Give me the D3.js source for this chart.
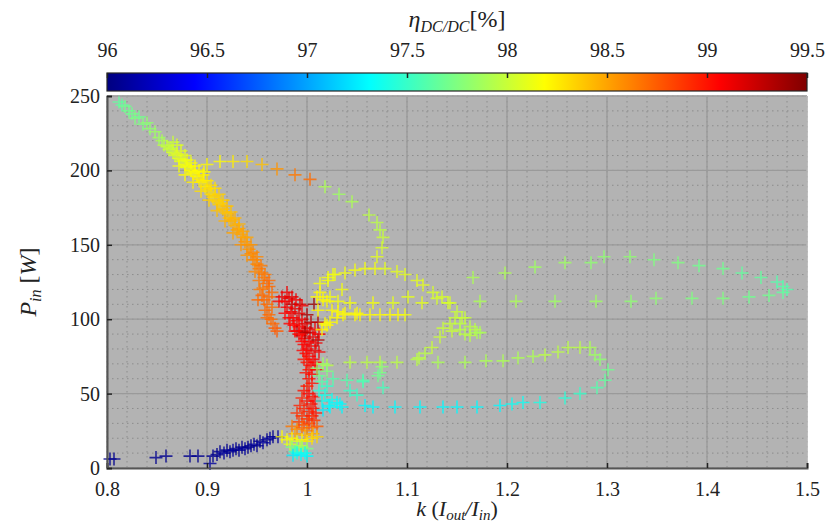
<!DOCTYPE html>
<html>
<head>
<meta charset="utf-8">
<script src="https://cdn.jsdelivr.net/npm/d3@7"></script>
<style>
  body { margin: 0; background: #fff; }
  text { font-family: 'Liberation Serif', 'DejaVu Serif', serif; fill: #222; }
</style>
</head>
<body>
<svg id="chart" width="828" height="528"></svg>
<script>
// Axis ticks
const xTicks = [0.8, 0.9, 1.0, 1.1, 1.2, 1.3, 1.4, 1.5];
const xTickLabels = ["0.8", "0.9", "1", "1.1", "1.2", "1.3", "1.4", "1.5"];
const yTicks = [0, 50, 100, 150, 200, 250];
const etaTicks = [96, 96.5, 97, 97.5, 98, 98.5, 99, 99.5];
const etaTickLabels = ["96", "96.5", "97", "97.5", "98", "98.5", "99", "99.5"];

// Operating points: [k, Pin (W), efficiency (%)]
const lowPowerBranch = [
  [0.803,6,96.05],[0.807,6,96.05],[0.849,7,96.05],[0.859,8,96.05],[0.883,8,96.05],[0.891,8,96.05],
  [0.903,3,96.1],[0.906,8,96.05],[0.910,9,96.05],[0.913,11,96.05],[0.917,10,96.1],[0.920,12,96.05],
  [0.923,11,96.05],[0.926,12,96.1],[0.929,13,96.05],[0.932,12,96.05],[0.935,14,96.05],[0.938,13,96.1],
  [0.941,14,96.05],[0.944,15,96.05],[0.947,16,96.1],[0.950,15,96.05],[0.953,18,96.05],[0.956,17,96.1],
  [0.960,19,96.05],[0.963,20,96.1],[0.966,21,96.05],[0.971,21,96.1]
];

const descendingBand = [
  [0.812,246,97.65],[0.815,244,97.65],[0.818,243,97.7],[0.822,240,97.7],[0.825,238,97.7],[0.828,235,97.75],
  [0.832,236,97.7],[0.836,231,97.75],[0.840,232,97.8],[0.843,228,97.8],[0.848,226,97.85],[0.852,222,97.85],
  [0.855,220,97.9],[0.857,217,97.95],[0.860,216,98.0],[0.862,214,98.0],[0.864,215,98.0],[0.866,212,98.05],
  [0.868,210,98.05],[0.870,211,98.1],[0.872,208,98.1],[0.874,206,98.1],[0.876,207,98.1],[0.878,204,98.15],
  [0.880,202,98.15],[0.882,203,98.15],[0.884,200,98.2],[0.886,198,98.2],[0.888,199,98.2],[0.890,196,98.2],
  [0.892,194,98.25],[0.894,192,98.25],[0.896,193,98.25],[0.898,189,98.25],[0.900,187,98.3],[0.902,188,98.3],
  [0.904,184,98.3],[0.906,182,98.3],[0.908,183,98.35],[0.910,179,98.35],[0.912,177,98.35],[0.914,178,98.35],
  [0.916,174,98.4],[0.918,172,98.4],[0.920,171,98.4],[0.922,168,98.4],[0.924,166,98.45],[0.926,167,98.45],
  [0.928,163,98.45],[0.930,160,98.5],[0.932,161,98.5],[0.934,157,98.5],[0.936,155,98.5],[0.938,152,98.55],
  [0.940,150,98.55],[0.942,147,98.55],[0.944,144,98.6],[0.946,145,98.6],[0.948,140,98.6],[0.950,137,98.6],
  [0.952,134,98.65],[0.955,131,98.65],[0.957,128,98.65],[0.960,124,98.7],[0.962,122,98.7],
  [0.866,219,98.0],[0.870,217,98.05],[0.874,213,98.1],[0.878,210,98.1],[0.872,203,98.15],[0.880,207,98.15],
  [0.884,205,98.15],[0.878,197,98.2],[0.888,203,98.2],[0.892,200,98.2],[0.886,192,98.25],[0.896,197,98.25],
  [0.900,193,98.25],[0.894,186,98.3],[0.904,190,98.3],[0.908,188,98.3],[0.902,180,98.35],[0.912,184,98.35],
  [0.916,180,98.35],[0.910,173,98.4],[0.920,176,98.4],[0.924,172,98.4],[0.918,166,98.45],[0.928,168,98.45],
  [0.932,164,98.45],[0.926,158,98.5],[0.936,159,98.5],[0.940,155,98.5],[0.934,150,98.55],[0.944,150,98.55],
  [0.946,140,98.6],[0.940,143,98.55],[0.950,142,98.6],[0.954,136,98.65],[0.948,132,98.6],[0.958,130,98.65],
  [0.952,126,98.65],[0.962,126,98.7],[0.956,121,98.65],[0.965,118,98.7],
  [0.953,120,98.65],[0.955,116,98.7],[0.951,113,98.7],[0.957,113,98.7],[0.960,110,98.7],[0.958,106,98.7],
  [0.962,103,98.7],[0.964,100,98.7],[0.966,97,98.7],[0.968,94,98.75],[0.962,115,98.7],[0.965,108,98.7],
  [0.970,92,98.75],[0.960,101,98.7]
];

const peakBand = [
  [0.975,115,99.15],[0.978,112,99.1],[0.982,114,99.15],[0.985,110,99.3],[0.980,108,99.1],[0.984,105,99.1],
  [0.988,107,99.15],[0.992,104,99.15],[0.986,101,99.1],[0.990,99,99.1],[0.995,100,99.1],[0.998,97,99.15],
  [0.992,95,99.05],[0.996,92,99.1],[1.000,94,99.15],[1.003,91,99.1],[0.994,89,99.05],[0.998,87,99.1],
  [1.002,85,99.1],[1.006,88,99.15],[0.997,83,99.05],[1.000,80,99.1],[1.004,82,99.1],[1.008,79,99.15],
  [0.999,77,99.05],[1.002,75,99.05],[1.006,73,99.1],[1.000,71,99.0],[1.004,69,99.05],[1.002,66,99.0],
  [1.005,63,99.05],[1.007,110,99.4],[1.004,98,99.3],[0.990,92,99.3],[1.011,86,99.35],[1.000,103,99.35],
  [0.972,112,99.05],[0.978,104,99.05],[0.983,97,99.05],[0.988,92,99.05],[1.011,98,99.3],[0.998,91,99.35],
  [0.980,118,99.1],[0.989,113,99.1],[0.995,109,99.1],[0.982,101,99.05],[0.987,96,99.05],[0.992,90,99.05],
  [1.008,93,99.1],[1.012,90,99.1],[1.009,84,99.1],[0.995,85,99.05],[1.012,78,99.1],[0.996,79,99.05],
  [1.008,71,99.05],[0.997,73,99.0],[1.010,66,99.05],[0.999,64,99.0],[0.993,110,99.2],[0.985,115,99.15],
  [1.002,60,99.0],[1.005,57,99.0],[1.000,55,98.95]
];

const lowKCluster = [
  [0.997,52,99.0],[1.002,50,99.05],[1.006,48,99.0],[0.995,47,98.95],[1.000,45,99.0],[1.004,43,99.0],
  [1.008,45,99.05],[0.993,42,98.95],[0.997,40,98.95],[1.002,38,98.95],[1.006,40,99.0],[0.990,37,98.9],
  [0.995,35,98.9],[1.000,33,98.9],[1.005,35,98.95],[1.009,37,99.0],[0.992,31,98.85],[0.997,29,98.8],
  [1.002,30,98.85],[1.007,32,98.9],
  [0.985,28,98.65],[0.990,26,98.6],[0.995,27,98.7],[1.000,25,98.6],[1.005,27,98.7],[1.010,28,98.75],
  [0.988,23,98.5],[0.998,22,98.45],[1.006,23,98.5],
  [0.975,21,98.2],[0.980,19,98.15],[0.985,20,98.2],[0.990,18,98.1],[0.995,19,98.2],[1.000,18,98.25],
  [1.005,20,98.3],[1.010,21,98.35],[0.983,16,98.05],[0.993,15,98.0],
  [0.985,14,97.75],[0.990,13,97.7],[0.995,14,97.8],[1.000,13,97.75],[0.988,11,97.55],
  [0.990,10,97.35],[0.994,9,97.3],[0.998,10,97.35],[0.986,8.5,97.25],[1.000,8,97.3]
];

const upperLoop = [
  [0.897,199,98.2],[0.900,204,98.2],[0.913,206,98.2],[0.926,206,98.25],[0.940,206,98.3],[0.955,204,98.4],
  [0.970,201,98.55],[0.988,197,98.65],[1.003,194,98.7],[1.018,189,97.9],[1.032,184,97.85],[1.045,179,97.9],
  [1.062,170,97.95],[1.070,165,97.95],[1.073,160,97.95],[1.076,155,98.0],[1.075,148,98.05],[1.070,142,98.1],
  [1.068,134,98.15]
];

const yellowArcs = [
  [1.013,124,98.15],[1.021,128,98.15],[1.028,130,98.15],[1.038,131,98.15],[1.048,133,98.15],[1.058,134,98.15],
  [1.078,134,98.1],[1.090,132,98.1],[1.098,130,98.1],[1.110,126,98.1],[1.116,123,98.1],[1.126,118,98.05],
  [1.135,115,98.05],[1.143,111,98.05],[1.150,105,98.0],[1.155,101,98.0],
  [1.020,96,98.2],[1.030,101,98.2],[1.038,104,98.2],[1.048,103,98.2],[1.053,103,98.2],[1.063,103,98.2],
  [1.073,103,98.2],[1.083,103,98.2],[1.091,103,98.2],[1.098,103,98.15],
  [1.010,115,98.2],[1.013,118,98.2],[1.023,115,98.15],[1.031,112,98.15],[1.035,120,98.15],[1.043,111,98.15],
  [1.066,111,98.15],[1.086,111,98.1],[1.101,115,98.1],[1.115,111,98.1],[1.130,114,98.05],[1.141,111,98.05],
  [1.016,113,98.2],[1.020,112,98.2],[1.011,106,98.2],[1.025,106,98.2],[1.031,105,98.2],[1.036,103,98.2],
  [1.050,104,98.2],[1.018,97,98.2],[1.023,98,98.2],[1.015,93,98.2],[1.026,130,98.15],[1.021,126,98.15]
];

const limeCluster = [
  [1.136,94,98.0],[1.143,97,98.0],[1.153,97,97.95],[1.163,95,97.95],[1.170,91,97.9],[1.158,101,98.0],
  [1.148,101,98.0],[1.168,93,97.95],[1.173,91,97.9],[1.163,89,97.95],[1.153,93,97.95],[1.145,92,98.0],
  [1.158,90,97.95],[1.133,88,98.0],[1.125,81,98.0],[1.118,77,97.95],[1.112,74,97.95]
];

const highKUpper = [
  [1.166,128,97.9],[1.198,131,97.9],[1.228,135,97.85],[1.258,138,97.85],[1.284,138,97.8],[1.297,142,97.8],
  [1.323,142,97.8],[1.347,140,97.75],[1.371,138,97.75],[1.392,136,97.7],[1.416,134,97.7],[1.435,131,97.65],
  [1.454,128,97.65],[1.470,125,97.6],[1.476,122,97.6],[1.480,120,97.6]
];

const highKLower = [
  [1.173,112,97.9],[1.209,112,97.9],[1.248,112,97.85],[1.289,112,97.85],[1.324,112,97.8],[1.349,114,97.8],
  [1.385,114,97.75],[1.416,114,97.75],[1.442,115,97.7],[1.462,116,97.7],[1.476,118,97.65]
];

const midLoop = [
  [1.020,69,97.95],[1.043,71,97.95],[1.060,71,97.95],[1.073,71,97.95],[1.090,71,97.95],[1.110,73,97.95],
  [1.131,71,97.9],[1.158,71,97.9],[1.179,72,97.9],[1.196,72,97.9],[1.211,74,97.9],[1.226,75,97.9],
  [1.238,76,97.95],[1.251,78,97.95],[1.261,81,97.95],[1.273,81,97.95],[1.283,81,97.9],[1.288,76,97.85],
  [1.293,73,97.8],[1.301,66,97.7],[1.298,59,97.65],[1.290,54,97.6],[1.273,50,97.5],[1.258,47,97.45],
  [1.233,44,97.4],[1.216,44,97.35],[1.205,43,97.35],[1.193,42,97.3],[1.170,41,97.3],[1.150,41,97.3],
  [1.136,41,97.3],[1.113,41,97.3],[1.088,41,97.3],[1.066,41,97.3],[1.058,42,97.3],[1.035,41,97.3],
  [1.023,41,97.3]
];

const transitionPoints = [
  [1.026,60,97.6],[1.040,59,97.6],[1.056,58,97.55],[1.071,62,97.7],[1.076,54,97.55],[1.043,52,97.5],
  [1.050,49,97.5],[1.073,64,97.7],[1.056,59,97.6],[1.075,68,97.8],
  [1.012,62,97.7],[1.015,58,97.6],[1.020,55,97.5],[1.012,52,97.45],[1.018,49,97.4],[1.025,46,97.35],
  [1.030,44,97.3],[1.022,42,97.3],[1.015,45,97.35],[1.010,67,97.8],[1.016,70,97.85],[1.020,65,97.75],
  [1.016,39,97.25],[1.033,43,97.3]
];

// Layout
const plot = { left: 107, right: 807, top: 96, bottom: 468 };
const bar = { top: 73, height: 18 };

const svg = d3.select("#chart");

const x = d3.scaleLinear().domain([0.8, 1.5]).range([plot.left, plot.right]);
const y = d3.scaleLinear().domain([0, 250]).range([plot.bottom, plot.top]);

// MATLAB-style jet colormap
const clamp01 = v => Math.max(0, Math.min(1, v));
const jet = t => d3.rgb(
  255 * clamp01(1.5 - Math.abs(4 * t - 3)),
  255 * clamp01(1.5 - Math.abs(4 * t - 2)),
  255 * clamp01(1.5 - Math.abs(4 * t - 1))
).formatHex();
const color = d3.scaleSequential(jet).domain([96, 99.5]);

// Plot background
svg.append("rect")
  .attr("x", plot.left).attr("y", plot.top)
  .attr("width", plot.right - plot.left).attr("height", plot.bottom - plot.top)
  .attr("fill", "#b3b3b3");

// Minor grid (dotted)
const minorX = d3.range(0, 36).map(i => 0.8 + i * 0.02);
const minorY = d3.range(0, 26).map(i => i * 10);
const grid = svg.append("g");
grid.selectAll(".mx").data(minorX).join("line")
  .attr("x1", d => x(d)).attr("x2", d => x(d))
  .attr("y1", plot.top).attr("y2", plot.bottom)
  .attr("stroke", "#8c8c8c").attr("stroke-width", 1).attr("stroke-dasharray", "1.5,3.5");
grid.selectAll(".my").data(minorY).join("line")
  .attr("x1", plot.left).attr("x2", plot.right)
  .attr("y1", d => y(d)).attr("y2", d => y(d))
  .attr("stroke", "#8c8c8c").attr("stroke-width", 1).attr("stroke-dasharray", "1.5,3.5");

// Major grid (solid)
grid.selectAll(".gx").data(xTicks).join("line")
  .attr("x1", d => x(d)).attr("x2", d => x(d))
  .attr("y1", plot.top).attr("y2", plot.bottom)
  .attr("stroke", "#9a9a9a").attr("stroke-width", 1.3);
grid.selectAll(".gy").data(yTicks).join("line")
  .attr("x1", plot.left).attr("x2", plot.right)
  .attr("y1", d => y(d)).attr("y2", d => y(d))
  .attr("stroke", "#9a9a9a").attr("stroke-width", 1.3);

// Markers
const crossPath = "M-6.5,0H6.5M0,-6.5V6.5";
const allGroups = [descendingBand, lowPowerBranch, peakBand, lowKCluster, upperLoop, yellowArcs,
                   limeCluster, highKUpper, highKLower, midLoop, transitionPoints];
const marks = svg.append("g");
allGroups.forEach(group => {
  marks.append("g").selectAll("path").data(group).join("path")
    .attr("d", crossPath)
    .attr("transform", d => `translate(${x(d[0])},${y(d[1])})`)
    .attr("fill", "none")
    .attr("stroke", d => color(d[2]))
    .attr("stroke-width", 1.6)
    .attr("stroke-opacity", 0.8);
});

// Frame
svg.append("line").attr("x1", plot.left).attr("x2", plot.right).attr("y1", plot.top).attr("y2", plot.top)
  .attr("stroke", "#a6a6a6").attr("stroke-width", 1);
svg.append("line").attr("x1", plot.right).attr("x2", plot.right).attr("y1", plot.top).attr("y2", plot.bottom)
  .attr("stroke", "#c6c6c6").attr("stroke-width", 1);

// Axes
const xAxis = d3.axisBottom(x).tickValues(xTicks).tickSize(-5).tickPadding(10)
  .tickFormat((d, i) => xTickLabels[i]);
const yAxis = d3.axisLeft(y).tickValues(yTicks).tickSize(-5).tickPadding(7);

const gx = svg.append("g").attr("transform", `translate(0,${plot.bottom})`).call(xAxis);
const gy = svg.append("g").attr("transform", `translate(${plot.left},0)`).call(yAxis);
[gx, gy].forEach(g => {
  g.select(".domain").attr("stroke", "#555").attr("stroke-width", 2);
  g.selectAll(".tick line").attr("stroke", "#222").attr("stroke-width", 1.5);
  g.selectAll(".tick text").attr("font-size", 20).attr("font-family", "'Liberation Serif', serif").attr("fill", "#222");
});
gx.selectAll(".tick text").attr("dy", "0.9em");

// Axis titles
svg.append("text")
  .attr("x", x(1.15)).attr("y", 516)
  .attr("text-anchor", "middle").attr("font-size", 22)
  .call(t => {
    t.append("tspan").attr("font-style", "italic").text("k");
    t.append("tspan").text(" (");
    t.append("tspan").attr("font-style", "italic").text("I");
    t.append("tspan").attr("font-style", "italic").attr("font-size", 15).attr("dy", 4).text("out");
    t.append("tspan").attr("font-style", "italic").attr("dy", -4).text("/I");
    t.append("tspan").attr("font-style", "italic").attr("font-size", 15).attr("dy", 4).text("in");
    t.append("tspan").attr("dy", -4).text(")");
  });

svg.append("text")
  .attr("transform", `translate(36,${(plot.top + plot.bottom) / 2}) rotate(-90)`)
  .attr("text-anchor", "middle").attr("font-size", 24)
  .call(t => {
    t.append("tspan").attr("font-style", "italic").text("P");
    t.append("tspan").attr("font-style", "italic").attr("font-size", 16).attr("dy", 5).text("in");
    t.append("tspan").attr("dy", -5).text(" [");
    t.append("tspan").attr("font-style", "italic").text("W");
    t.append("tspan").text("]");
  });

// Colorbar
const defs = svg.append("defs");
const grad = defs.append("linearGradient").attr("id", "jetGrad")
  .attr("x1", "0%").attr("x2", "100%").attr("y1", "0%").attr("y2", "0%");
grad.selectAll("stop").data(d3.range(0, 65).map(i => i / 64)).join("stop")
  .attr("offset", d => `${d * 100}%`)
  .attr("stop-color", d => jet(d));

const cx = d3.scaleLinear().domain([96, 99.5]).range([plot.left, plot.right]);
svg.append("rect")
  .attr("x", plot.left).attr("y", bar.top)
  .attr("width", plot.right - plot.left).attr("height", bar.height)
  .attr("fill", "url(#jetGrad)")
  .attr("stroke", "#262626").attr("stroke-width", 1.2);

const cAxis = d3.axisTop(cx).tickValues(etaTicks).tickSize(-5).tickPadding(16)
  .tickFormat((d, i) => etaTickLabels[i]);
const gc = svg.append("g").attr("transform", `translate(0,${bar.top})`).call(cAxis);
gc.select(".domain").remove();
gc.selectAll(".tick line").attr("stroke", "#222").attr("stroke-width", 1.5);
gc.selectAll(".tick text").attr("font-size", 20).attr("font-family", "'Liberation Serif', serif").attr("fill", "#222");

svg.append("text")
  .attr("x", x(1.15)).attr("y", 27)
  .attr("text-anchor", "middle").attr("font-size", 24)
  .call(t => {
    t.append("tspan").attr("font-style", "italic").text("η");
    t.append("tspan").attr("font-style", "italic").attr("font-size", 16).attr("dy", 5).text("DC/DC");
    t.append("tspan").attr("dy", -5).text("[%]");
  });
</script>
</body>
</html>
